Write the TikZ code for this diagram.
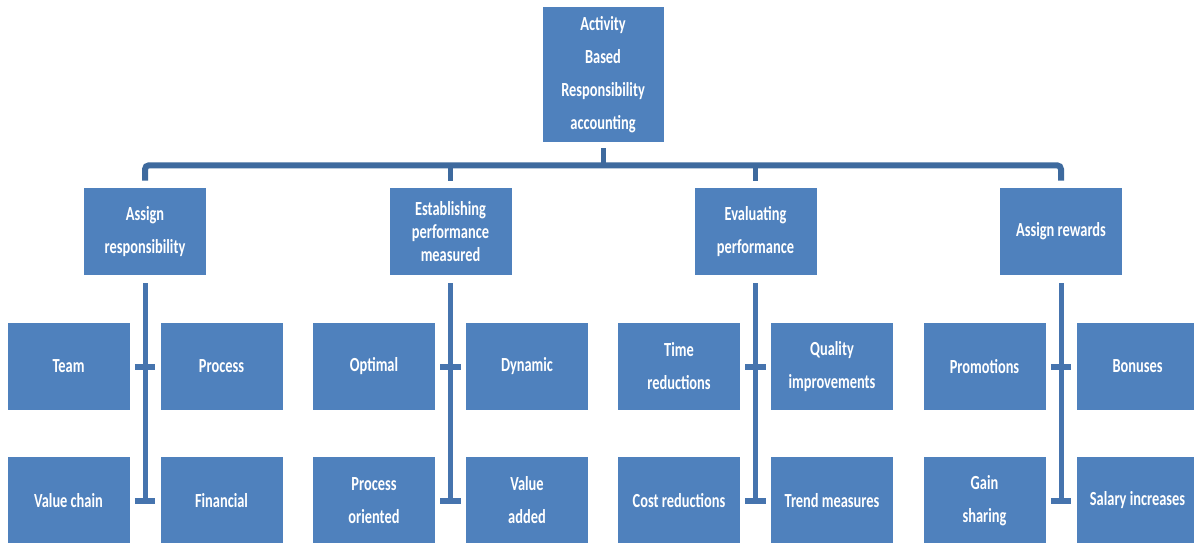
\documentclass[tikz,border=0pt]{standalone}
\usepackage{fontspec}
\setmainfont{Carlito}[FakeStretch=0.72]
\usepackage{tikz}
\usetikzlibrary{calc}
\definecolor{boxblue}{HTML}{4F81BD}
\definecolor{busblue}{HTML}{3E6A9E}
\definecolor{trunkblue}{HTML}{4674AE}
\tikzstyle{box} = [rectangle, fill=boxblue, text=white, font=\bfseries\fontsize{15}{24.75}\selectfont, align=center, minimum width=91.5pt, minimum height=65.25pt, inner sep=0pt]
\tikzstyle{bus} = [draw=busblue, line width=4.5pt, rounded corners=3pt]
\tikzstyle{stub} = [draw=busblue, line width=3.75pt]
\tikzstyle{trunk} = [draw=trunkblue, line width=3.75pt]
\tikzstyle{cross} = [draw=trunkblue, line width=4.5pt]

\begin{document}
\begin{tikzpicture}[x=0.75pt,y=-0.75pt]
			\fill[white] (0,0) rectangle (1194,542);
			\useasboundingbox (0,0) rectangle (1194,542);
			% top and second level
			\node[box, minimum width=90.75pt, minimum height=101.25pt] (root) at (603,74.5) {Activity\\Based\\Responsibility\\accounting};
			\node[box] (asg) at (145,231.5) {Assign\\responsibility};
			\node[box, font=\bfseries\fontsize{15}{17.5}\selectfont] (est) at (450.5,231.5) {Establishing\\performance\\measured};
			\node[box] (eva) at (755.5,231.5) {Evaluating\\performance};
			\node[box] (rew) at (1061,231.5) {Assign rewards};
			% leaves
			\node[box] (team) at (68.5,366.5) {Team};
			\node[box] (proc) at (221.5,366.5) {Process};
			\node[box] (vchain) at (68.5,500.5) {Value chain};
			\node[box] (fin) at (221.5,500.5) {Financial};
			\node[box] (opt) at (374,366.5) {Optimal};
			\node[box] (dyn) at (527,366.5) {Dynamic};
			\node[box] (porient) at (374,500.5) {Process\\oriented};
			\node[box] (vadded) at (527,500.5) {Value\\added};
			\node[box] (time) at (679,366.5) {Time\\reductions};
			\node[box] (qual) at (832,366.5) {Quality\\improvements};
			\node[box] (cost) at (679,500.5) {Cost reductions};
			\node[box] (trend) at (832,500.5) {Trend measures};
			\node[box] (promo) at (984.5,366.5) {Promotions};
			\node[box] (bonus) at (1137.5,366.5) {Bonuses};
			\node[box] (gain) at (984.5,500.5) {Gain\\sharing};
			\node[box] (salary) at (1137.5,500.5) {Salary increases};
			% connectors
			\draw[bus] ([yshift=5.25pt]asg.north) |- ([yshift=-17.25pt]root.south) -| ([yshift=5.25pt]rew.north);
			\draw[stub] ([yshift=-4.5pt]root.south) -- ([yshift=-17.25pt]root.south);
			\draw[stub] ([yshift=5.25pt]est.north) -- ([yshift=17.25pt]est.north);
			\draw[stub] ([yshift=5.25pt]eva.north) -- ([yshift=17.25pt]eva.north);
			\foreach \g/\a/\b/\c/\d in {asg/team/proc/vchain/fin, est/opt/dyn/porient/vadded, eva/time/qual/cost/trend, rew/promo/bonus/gain/salary}{
				\draw[trunk] ([yshift=-6pt]\g.south) -- (\g.south |- \c.east);
				\draw[cross] ([xshift=3.75pt]\a.east) -- ([xshift=-3.75pt]\b.west);
				\draw[cross] ([xshift=3.75pt]\c.east) -- ([xshift=-3.75pt]\d.west);
			}

		\end{tikzpicture}
\end{document}
